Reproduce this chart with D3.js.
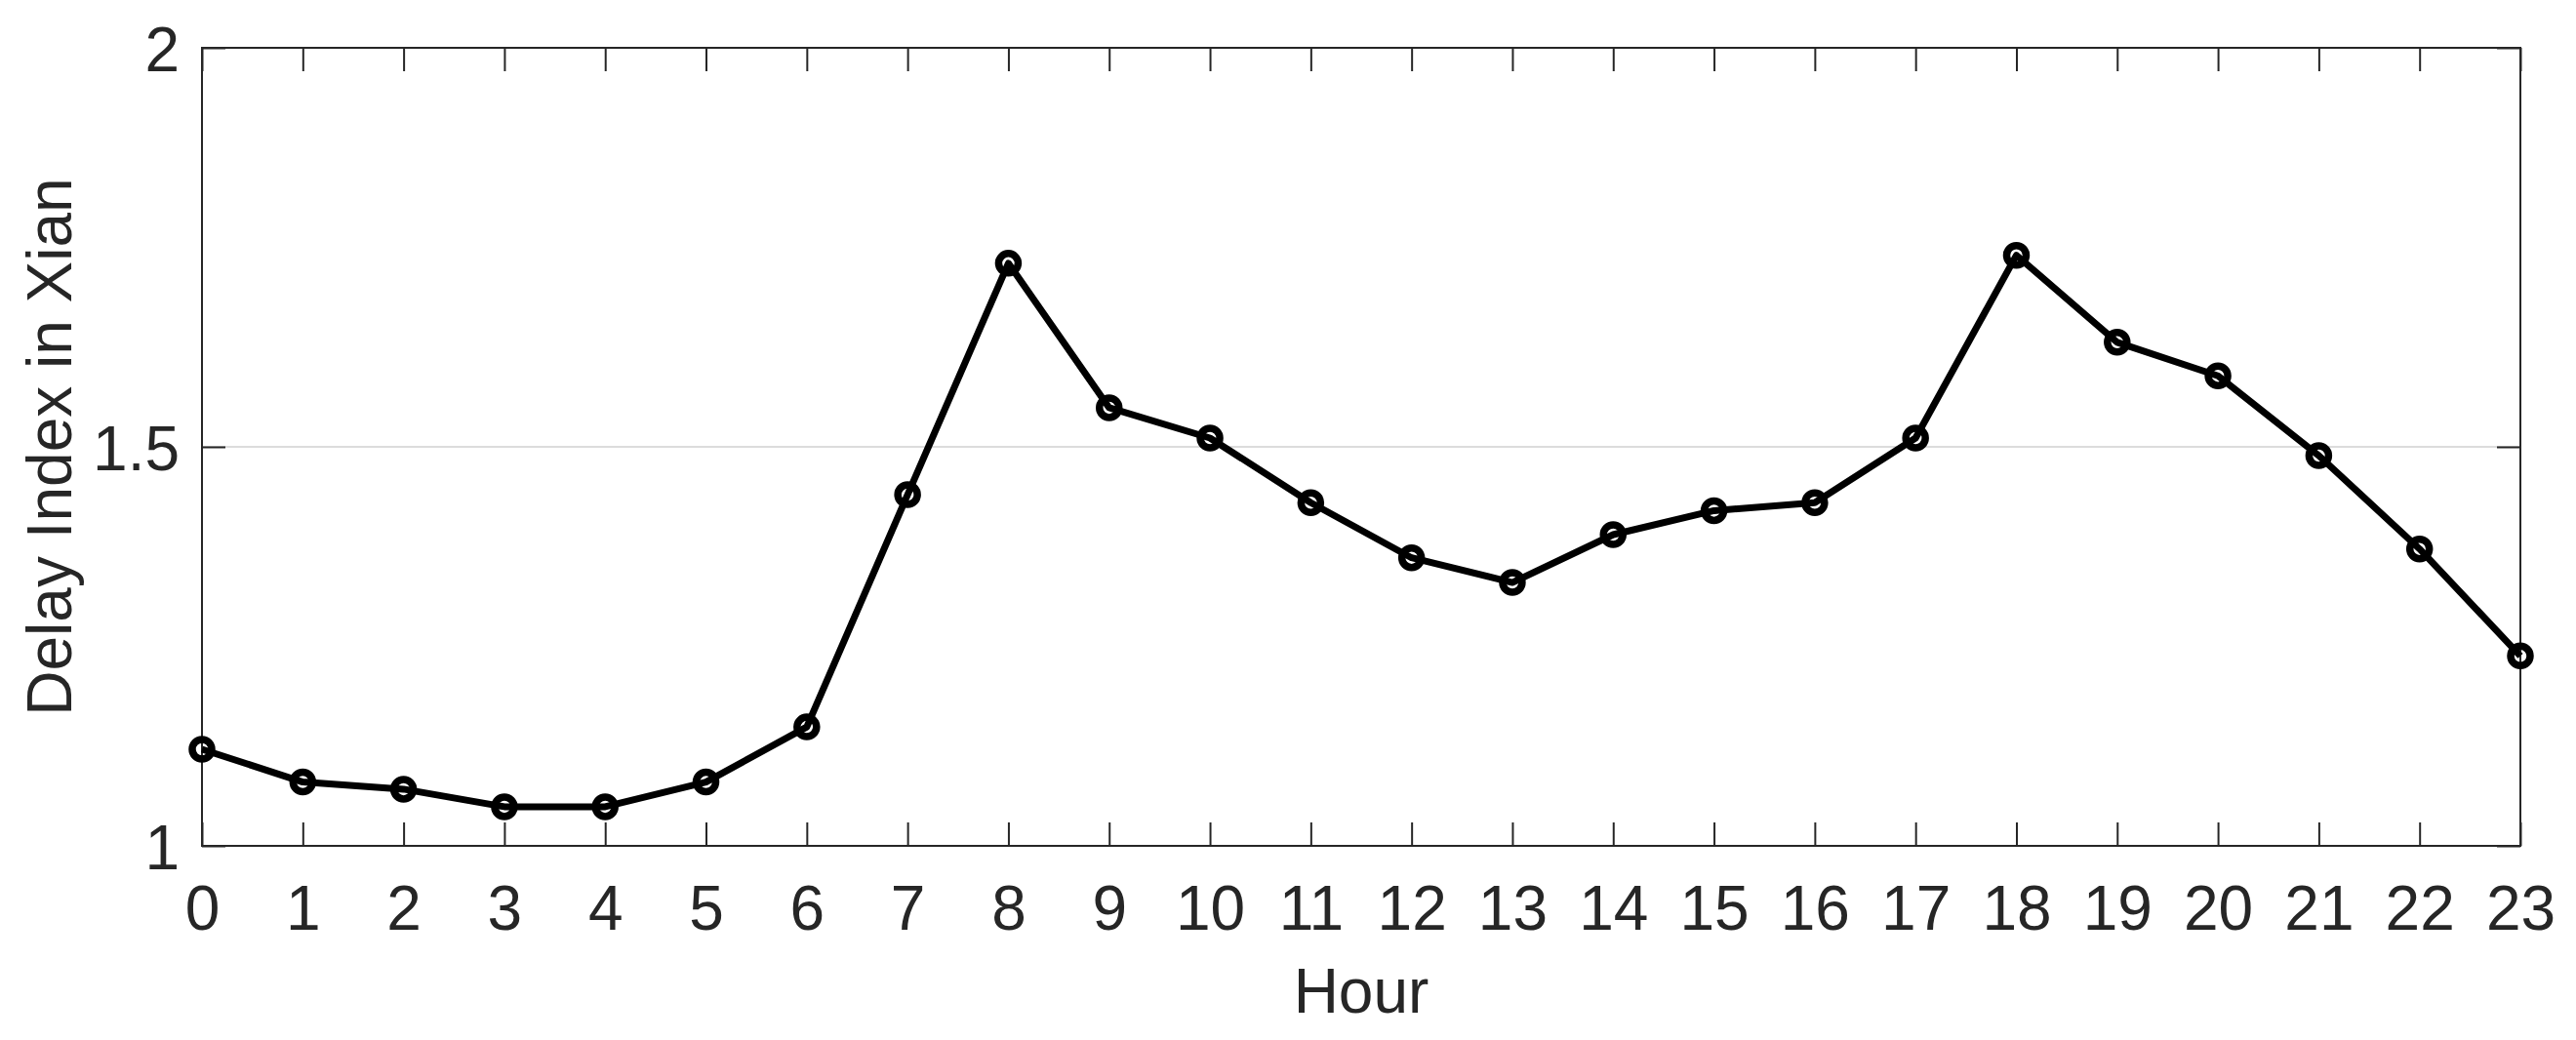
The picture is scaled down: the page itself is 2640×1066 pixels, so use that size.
<!DOCTYPE html>
<html>
<head>
<meta charset="utf-8">
<script src="https://cdn.jsdelivr.net/npm/d3@7"></script>
<style>
  html, body { margin: 0; padding: 0; background: #fff; }
  svg { display: block; }
  text { font-family: "Liberation Sans", Arial, Helvetica, sans-serif; fill: #262626; }
</style>
</head>
<body>
<script>
const hours = [0,1,2,3,4,5,6,7,8,9,10,11,12,13,14,15,16,17,18,19,20,21,22,23];
const delayIndex = [1.121,1.080,1.071,1.049,1.049,1.080,1.149,1.440,1.730,1.549,1.511,1.430,1.361,1.330,1.390,1.420,1.430,1.511,1.740,1.631,1.589,1.489,1.372,1.238];
const yTicks = [1, 1.5, 2];
const yTickLabels = ["1", "1.5", "2"];
const xLabel = "Hour";
const yLabel = "Delay Index in Xian";

const W = 2640, H = 1066;
const m = { left: 207, right: 2583, top: 49, bottom: 867 };
const axisColor = "#262626";

const svg = d3.select("body").append("svg").attr("width", W).attr("height", H);

const x = d3.scaleLinear().domain([0, 23]).range([m.left, m.right]);
const y = d3.scaleLinear().domain([1, 2]).range([m.bottom, m.top]);

// grid
svg.append("g").selectAll("line").data(yTicks).join("line")
  .attr("x1", m.left).attr("x2", m.right)
  .attr("y1", d => y(d)).attr("y2", d => y(d))
  .attr("stroke", "#dcdcdc").attr("stroke-width", 2);

const tickLen = 24;
// bottom axis
const xAxisB = d3.axisBottom(x).tickValues(hours).tickSize(-tickLen).tickPadding(0).tickFormat(d3.format("d"));
const gB = svg.append("g").attr("transform", `translate(0,${m.bottom})`).call(xAxisB);
gB.select(".domain").remove();
gB.selectAll(".tick line").attr("stroke", axisColor).attr("stroke-width", 2);
gB.selectAll(".tick text").attr("y", 953 - m.bottom).attr("dy", null)
  .style("font-size", "64px").attr("fill", axisColor);

// top axis ticks
const xAxisT = d3.axisTop(x).tickValues(hours).tickSize(-tickLen).tickFormat("");
const gT = svg.append("g").attr("transform", `translate(0,${m.top})`).call(xAxisT);
gT.select(".domain").remove();
gT.selectAll(".tick line").attr("stroke", axisColor).attr("stroke-width", 2);

// left axis
const yAxisL = d3.axisLeft(y).tickValues(yTicks).tickSize(-tickLen).tickPadding(0)
  .tickFormat((d, i) => yTickLabels[i]);
const gL = svg.append("g").attr("transform", `translate(${m.left},0)`).call(yAxisL);
gL.select(".domain").remove();
gL.selectAll(".tick line").attr("stroke", axisColor).attr("stroke-width", 2);
gL.selectAll(".tick text").attr("x", 184 - m.left).attr("dy", "0.37em")
  .style("font-size", "64px").attr("fill", axisColor).attr("text-anchor", "end");

// right axis ticks
const yAxisR = d3.axisRight(y).tickValues(yTicks).tickSize(-tickLen).tickFormat("");
const gR = svg.append("g").attr("transform", `translate(${m.right},0)`).call(yAxisR);
gR.select(".domain").remove();
gR.selectAll(".tick line").attr("stroke", axisColor).attr("stroke-width", 2);

// box
svg.append("rect")
  .attr("x", m.left).attr("y", m.top)
  .attr("width", m.right - m.left).attr("height", m.bottom - m.top)
  .attr("fill", "none").attr("stroke", axisColor).attr("stroke-width", 2);

// data line
const line = d3.line().x((d, i) => x(hours[i])).y(d => y(d));
svg.append("path").datum(delayIndex)
  .attr("d", line).attr("fill", "none").attr("stroke", "#000")
  .attr("stroke-width", 7).attr("stroke-linejoin", "round");

svg.append("g").selectAll("circle").data(delayIndex).join("circle")
  .attr("cx", (d, i) => x(hours[i])).attr("cy", d => y(d))
  .attr("r", 10).attr("fill", "none").attr("stroke", "#000").attr("stroke-width", 7.5);

// labels
svg.append("text").attr("x", (m.left + m.right) / 2).attr("y", 1038)
  .attr("text-anchor", "middle").style("font-size", "64px").text(xLabel);

svg.append("text")
  .attr("transform", `translate(73,${(m.top + m.bottom) / 2}) rotate(-90)`)
  .attr("text-anchor", "middle").style("font-size", "64px").text(yLabel);
</script>
</body>
</html>
